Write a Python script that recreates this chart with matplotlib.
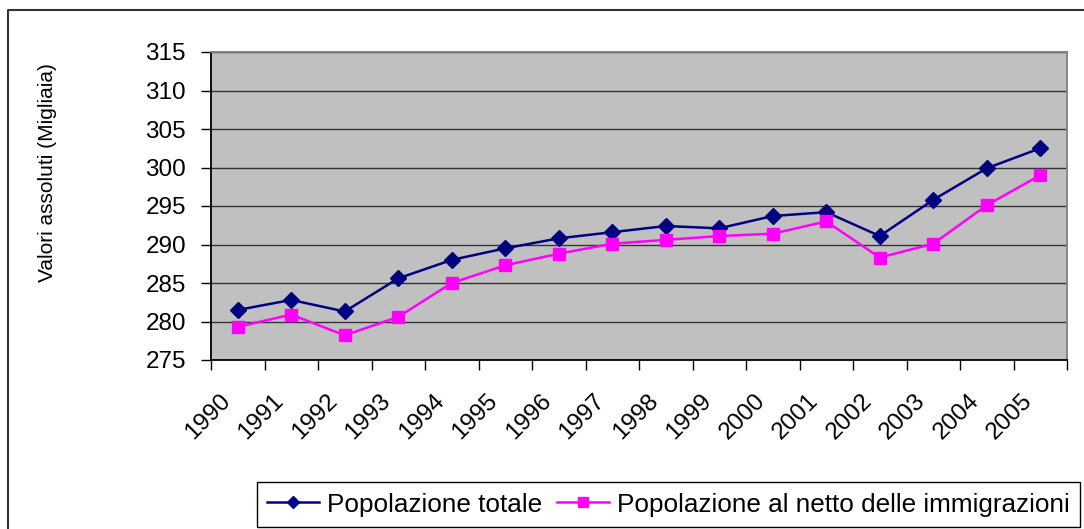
import numpy as np
import matplotlib.pyplot as plt
import matplotlib.transforms as mtransforms
from matplotlib.lines import Line2D

plt.rcParams['font.family'] = ['Liberation Sans', 'DejaVu Sans']

anni = [str(a) for a in range(1990, 2006)]
pop_totale = [281.5, 282.8, 281.3, 285.6, 288.0, 289.5, 290.8, 291.6,
              292.4, 292.1, 293.7, 294.2, 291.1, 295.8, 299.9, 302.5]
pop_netto = [279.3, 280.9, 278.2, 280.6, 285.0, 287.3, 288.8, 290.1,
             290.6, 291.1, 291.4, 293.0, 288.3, 290.1, 295.1, 299.0]

W, H = 1084, 529
fig = plt.figure(figsize=(W / 100, H / 100), dpi=100)
# area del grafico in pixel: x 211..1067, y 52..360
ax = fig.add_axes([211 / W, (H - 360) / H, (1067 - 211) / W, (360 - 52) / H])
ax.set_facecolor('#c0c0c0')

x = np.arange(len(anni))
ax.plot(x, pop_totale, color='#000080', marker='D', markersize=8.5, lw=1.8,
        label='Popolazione totale')
ax.plot(x, pop_netto, color='#ff00ff', marker='s', markersize=9, lw=1.8,
        label='Popolazione al netto delle immigrazioni')

ax.set_xlim(-0.5, len(anni) - 0.5)
ax.set_ylim(275, 315)
ax.set_yticks(np.arange(275, 316, 5))
ax.yaxis.grid(True, color='#333333', lw=1)
ax.set_axisbelow(True)

ax.set_xticks(x)
ax.set_xticklabels(anni, rotation=45, ha='right', va='center', rotation_mode='anchor')
ax.set_xticks(np.arange(-0.5, len(anni)), minor=True)
ax.tick_params(axis='x', which='major', length=0, pad=27, labelsize=17.5)
ax.tick_params(axis='x', which='minor', length=7, width=1, direction='out')
ax.tick_params(axis='y', length=7, width=1, direction='out', labelsize=17.5, pad=11)
shift = mtransforms.ScaledTranslation(-11 / 100, 0, fig.dpi_scale_trans)
for lab in ax.get_xticklabels():
    lab.set_transform(lab.get_transform() + shift)

for s in ['top', 'right']:
    ax.spines[s].set_color('#808080')
    ax.spines[s].set_linewidth(1.3)
for s in ['left', 'bottom']:
    ax.spines[s].set_color('black')
    ax.spines[s].set_linewidth(1.3)

ax.set_ylabel('Valori assoluti (Migliaia)', fontsize=15)
ax.yaxis.set_label_coords((57 - 211) / (1067 - 211), 0.61)

leg = fig.legend(loc='lower right', bbox_to_anchor=(1080 / W, 2 / H), ncol=2,
                 fontsize=18.8, frameon=True, fancybox=False, edgecolor='black',
                 framealpha=1, handlelength=2.0, handletextpad=0.3,
                 columnspacing=0.55, borderpad=0.4, markerscale=0.75,
                 borderaxespad=0)
leg.get_frame().set_linewidth(1)

# bordo del grafico (solo sinistra e alto, il resto è tagliato)
fig.add_artist(Line2D([8 / W, 8 / W, 1], [0, (H - 10) / H, (H - 10) / H],
                      transform=fig.transFigure, color='#333333', lw=1.5))

fig.savefig('out.png', dpi=100)
